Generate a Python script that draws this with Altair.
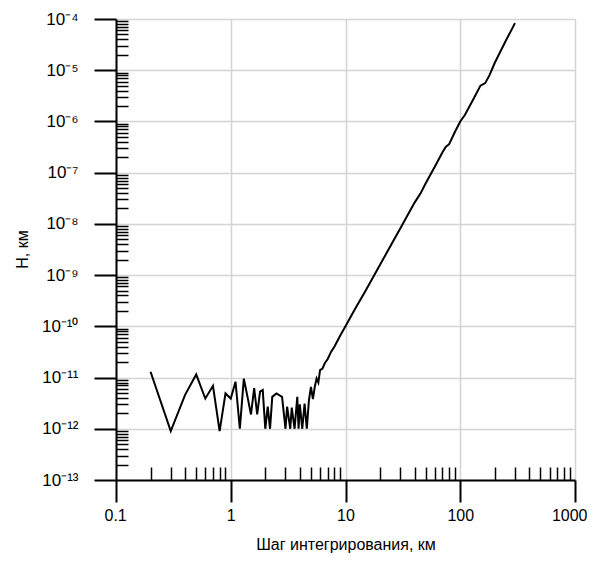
import altair as alt
import pandas as pd

# ---- data ----
step_km = [0.2, 0.3, 0.4, 0.5, 0.6, 0.7, 0.8, 0.9, 1.0, 1.1, 1.2, 1.3, 1.4, 1.5,
           1.6, 1.7, 1.8, 1.9, 2.0, 2.1, 2.2, 2.3, 2.5, 2.8, 3.0, 3.1, 3.3, 3.4,
           3.6, 3.8, 3.9, 4.0, 4.2, 4.4, 4.6, 4.8, 5.0, 5.2, 5.4, 5.6, 5.8, 6.0,
           6.3, 6.6, 7.0, 7.5, 8.0, 9.0, 10, 12, 15, 20, 25, 30, 40, 45, 50, 60,
           70, 75, 80, 90, 100, 110, 130, 150, 165, 180, 200, 250, 300]
h_km = [1.3e-11, 9e-13, 4.6e-12, 1.15e-11, 3.9e-12, 6.9e-12, 9e-13, 4.9e-12,
        3.9e-12, 8.3e-12, 1e-12, 9.5e-12, 4.2e-12, 1.9e-12, 6.2e-12, 1.9e-12,
        5.3e-12, 5.7e-12, 1e-12, 2.7e-12, 1e-12, 4.2e-12, 4.9e-12, 4.2e-12,
        1e-12, 2.7e-12, 1e-12, 2.6e-12, 1e-12, 4.2e-12, 1e-12, 3e-12, 1e-12,
        3.1e-12, 1e-12, 3.6e-12, 6.6e-12, 3.8e-12, 6.6e-12, 9.6e-12, 8e-12,
        1.4e-11, 1.5e-11, 1.9e-11, 2.3e-11, 3.2e-11, 4.0e-11, 6.6e-11, 1.0e-10,
        2.1e-10, 5.0e-10, 1.6e-9, 3.9e-9, 8.1e-9, 2.6e-8, 3.9e-8, 6.2e-8,
        1.3e-7, 2.5e-7, 3.2e-7, 3.6e-7, 6.3e-7, 1.0e-6, 1.35e-6, 2.7e-6,
        5.0e-6, 5.6e-6, 8.0e-6, 1.4e-5, 3.8e-5, 8.3e-5]

x_major = [0.1, 1, 10, 100, 1000]
x_labels = ["0.1", "1", "10", "100", "1000"]
y_exponents = [-13, -12, -11, -10, -9, -8, -7, -6, -5, -4]
y_labels = ["10⁻¹³", "10⁻¹²", "10⁻¹¹", "10⁻¹⁰", "10⁻⁹", "10⁻⁸",
            "10⁻⁷", "10⁻⁶", "10⁻⁵", "10⁻⁴"]
minor_mult = [2, 3, 4, 5, 6, 7, 8, 9]

y_major = [10.0 ** e for e in y_exponents]
x_minor = [m * d for d in [0.1, 1, 10, 100] for m in minor_mult]
y_minor = [m * 10.0 ** e for e in y_exponents[:-1] for m in minor_mult]

df = pd.DataFrame({"step": step_km, "h": h_km})

FONT = "Liberation Sans"
xdom = [0.1, 1000]
ydom = [1e-13, 1e-4]

x_lbl_expr = "[" + ",".join("'%s'" % s for s in x_labels) + "][round(log(datum.value)/LN10)+1]"
y_lbl_expr = "[" + ",".join("'%s'" % s for s in y_labels) + "][round(log(datum.value)/LN10)+13]"

main = alt.Chart(df).mark_line(color="black", strokeWidth=2).encode(
    x=alt.X("step:Q", scale=alt.Scale(type="log", domain=xdom, nice=False),
            axis=alt.Axis(values=x_major, labelExpr=x_lbl_expr,
                          tickSize=22, tickWidth=2, tickColor="black",
                          domainColor="black", domainWidth=2,
                          grid=True, gridColor="#d4d4d4", gridWidth=1.5,
                          labelFont=FONT, labelFontSize=16, labelColor="black",
                          labelPadding=5, labelFlush=True, labelFlushOffset=12,
                          title="Шаг интегрирования, км", titleFont=FONT,
                          titleFontSize=16, titleFontWeight="normal",
                          titleColor="black", titleY=69,
                          titleBaseline="alphabetic")),
    y=alt.Y("h:Q", scale=alt.Scale(type="log", domain=ydom, nice=False),
            axis=alt.Axis(values=y_major, labelExpr=y_lbl_expr,
                          tickSize=22, tickWidth=2, tickColor="black",
                          domainColor="black", domainWidth=2,
                          grid=True, gridColor="#d4d4d4", gridWidth=1.5,
                          labelFont=FONT, labelFontSize=17, labelColor="black",
                          labelPadding=16, labelFlush=False,
                          title="H, км", titleFont=FONT, titleFontSize=16,
                          titleFontWeight="normal", titleColor="black",
                          titleX=-94, titleY=230, titleAngle=270,
                          titleAlign="center", titleBaseline="middle")),
)

minor = alt.Chart(df).mark_line(opacity=0).encode(
    x=alt.X("step:Q", scale=alt.Scale(type="log", domain=xdom, nice=False),
            axis=alt.Axis(orient="bottom", values=x_minor, offset=-13,
                          tickSize=13, tickWidth=1.5, tickColor="black",
                          domain=False, labels=False, grid=False, title=None)),
    y=alt.Y("h:Q", scale=alt.Scale(type="log", domain=ydom, nice=False),
            axis=alt.Axis(orient="left", values=y_minor, offset=-12,
                          tickSize=12, tickWidth=1.5, tickColor="black",
                          domain=False, labels=False, grid=False, title=None)),
)

chart = alt.layer(main, minor).resolve_scale(
    x="independent", y="independent"
).properties(
    width=459, height=461,
    autosize=alt.AutoSizeParams(type="none"),
    padding={"left": 108, "top": 11, "right": 12, "bottom": 73},
).configure_view(stroke=None)

chart.save("out.html", embed_options={"renderer": "svg", "actions": False})
